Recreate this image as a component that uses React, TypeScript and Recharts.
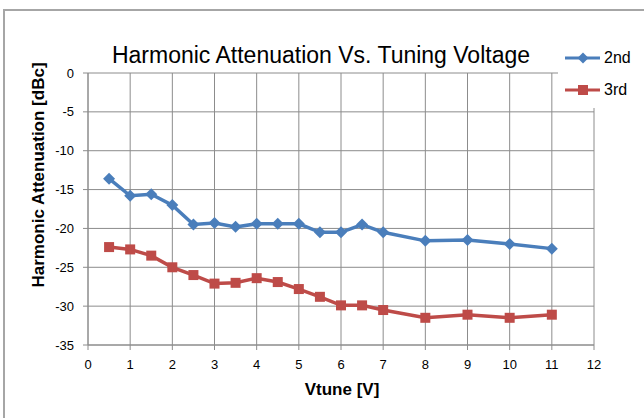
import React from 'react';
import { LineChart, Line, XAxis, YAxis, CartesianGrid, Legend } from 'recharts';

const vtune = [0.5, 1, 1.5, 2, 2.5, 3, 3.5, 4, 4.5, 5, 5.5, 6, 6.5, 7, 8, 9, 10, 11];
const second = [-13.6, -15.8, -15.6, -17.0, -19.5, -19.3, -19.8, -19.4, -19.4, -19.4, -20.5, -20.5, -19.5, -20.5, -21.6, -21.5, -22.0, -22.6];
const third = [-22.4, -22.7, -23.5, -25.0, -26.0, -27.1, -27.0, -26.4, -26.9, -27.8, -28.8, -29.9, -29.9, -30.5, -31.5, -31.1, -31.5, -31.1];
const xTicks = [0, 1, 2, 3, 4, 5, 6, 7, 8, 9, 10, 11, 12];
const yTicks = [0, -5, -10, -15, -20, -25, -30, -35];

const data = vtune.map((v, i) => ({ v, second: second[i], third: third[i] }));

const BLUE = '#4a7ebb';
const RED = '#be4b48';
const GRID = '#8c8c8c';
const FONT = '"Liberation Sans", Arial, sans-serif';

const Diamond = (props: any) => {
  const { cx, cy, fill, size = 5.5 } = props;
  if (cx == null || cy == null) return null;
  return <path d={`M${cx},${cy - size} L${cx + size},${cy} L${cx},${cy + size} L${cx - size},${cy} Z`} fill={fill} />;
};

const Square = (props: any) => {
  const { cx, cy, fill, size = 5 } = props;
  if (cx == null || cy == null) return null;
  return <rect x={cx - size} y={cy - size} width={size * 2} height={size * 2} fill={fill} />;
};

const LegendContent = () => {
  const items = [
    { name: '2nd', color: BLUE, kind: 'diamond' },
    { name: '3rd', color: RED, kind: 'square' },
  ];
  return (
    <div style={{ background: '#fff', width: 86, height: 66, fontFamily: FONT }}>
      {items.map((it) => (
        <div key={it.name} style={{ display: 'flex', alignItems: 'center', height: 32, paddingLeft: 7 }}>
          <svg width={38} height={20}>
            <line x1={0} y1={10} x2={35} y2={10} stroke={it.color} strokeWidth={3} />
            {it.kind === 'diamond' ? (
              <Diamond cx={18} cy={10} fill={it.color} size={5.5} />
            ) : (
              <Square cx={18} cy={10} fill={it.color} size={5} />
            )}
          </svg>
          <span style={{ fontSize: 16, color: '#000', marginLeft: 1 }}>{it.name}</span>
        </div>
      ))}
    </div>
  );
};

export default function App() {
  return (
    <div style={{ position: 'absolute', left: 0, top: 0, width: 644, height: 418, overflow: 'hidden', background: '#fff' }}>
      <div style={{ position: 'absolute', left: 3, top: 9, width: 700, height: 500, border: '2px solid #a6a6a6', boxSizing: 'border-box' }} />
      <svg width={644} height={418} style={{ position: 'absolute', left: 0, top: 0 }}>
        <text x={321} y={63} textAnchor="middle" fontFamily={FONT} fontSize={23} fill="#000">
          Harmonic Attenuation  Vs. Tuning Voltage
        </text>
      </svg>
      <div style={{ position: 'absolute', left: 0, top: 0 }}>
        <LineChart width={644} height={418} data={data} margin={{ top: 73, right: 50, bottom: 0, left: 0 }}>
          <CartesianGrid stroke={GRID} strokeWidth={1} horizontalValues={yTicks} verticalValues={xTicks} />
          <XAxis
            dataKey="v"
            type="number"
            domain={[0, 12]}
            ticks={xTicks}
            interval={0}
            height={73}
            stroke={GRID}
            tickSize={5}
            tickMargin={10}
            tick={{ fill: '#000', fontSize: 13, fontFamily: FONT }}
            label={() => (
              <text x={342} y={395} textAnchor="middle" fontFamily={FONT} fontSize={17} fontWeight="bold" fill="#000">
                Vtune [V]
              </text>
            )}
          />
          <YAxis
            type="number"
            domain={[-35, 0]}
            ticks={yTicks}
            interval={0}
            width={88}
            stroke={GRID}
            tickSize={5}
            tickMargin={9}
            tick={{ fill: '#000', fontSize: 13, fontFamily: FONT }}
            label={() => (
              <text
                x={38}
                y={175}
                transform="rotate(-90 38 175)"
                textAnchor="middle"
                dominantBaseline="central"
                fontFamily={FONT}
                fontSize={17}
                fontWeight="bold"
                fill="#000"
              >
                Harmonic Attenuation [dBc]
              </text>
            )}
          />
          <Legend
            layout="vertical"
            align="center"
            verticalAlign="middle"
            wrapperStyle={{ left: 558, top: 42, width: 86 }}
            content={() => <LegendContent />}
          />
          <Line
            type="linear"
            dataKey="second"
            name="2nd"
            stroke={BLUE}
            strokeWidth={3.5}
            dot={(p: any) => <Diamond key={`d${p.index}`} cx={p.cx} cy={p.cy} fill={BLUE} size={6} />}
            activeDot={false}
            isAnimationActive={false}
          />
          <Line
            type="linear"
            dataKey="third"
            name="3rd"
            stroke={RED}
            strokeWidth={3.5}
            dot={(p: any) => <Square key={`s${p.index}`} cx={p.cx} cy={p.cy} fill={RED} size={5} />}
            activeDot={false}
            isAnimationActive={false}
          />
        </LineChart>
      </div>
    </div>
  );
}
